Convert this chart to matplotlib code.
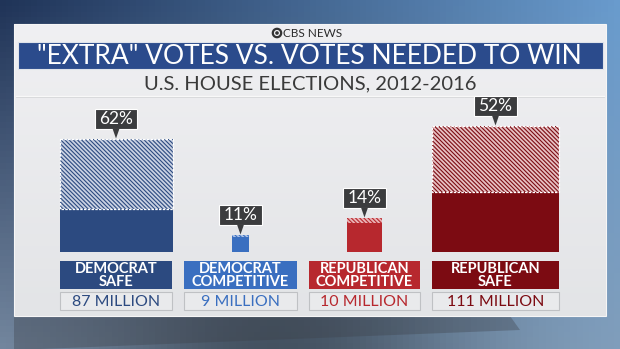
import numpy as np
import matplotlib.pyplot as plt
from matplotlib.patches import Rectangle, Polygon, Circle

# chart values
categories = ["DEMOCRAT\nSAFE", "DEMOCRAT\nCOMPETITIVE", "REPUBLICAN\nCOMPETITIVE", "REPUBLICAN\nSAFE"]
votes_million = [87, 9, 10, 111]
extra_pct = [62, 11, 14, 52]
# drawn box sides (width, height) as they appear in the graphic
box_w = [113, 17, 35, 127]
box_h = [113, 17, 34, 126]

colors = ["#2c4a80", "#3a6fc0", "#b7282e", "#7c0b12"]
hatch_bg = ["#c9d1e2", "#aec4e8", "#eab4b6", "#e6c0c2"]

plt.rcParams['font.family'] = ['Lato', 'DejaVu Sans']
plt.rcParams['hatch.linewidth'] = 0.8

W, H = 620, 349
fig = plt.figure(figsize=(6.2, 3.49), dpi=100)
ax = fig.add_axes([0, 0, 1, 1])
ax.set_xlim(0, W)
ax.set_ylim(H, 0)
ax.axis('off')

# outer background gradient
yy, xx = np.mgrid[0:1:60j, 0:1:100j]
tl = np.array([32, 52, 88]) / 255
tr = np.array([105, 155, 205]) / 255
bl = np.array([120, 140, 165]) / 255
br = np.array([130, 160, 190]) / 255
bg = ((1 - xx)[..., None] * (1 - yy)[..., None] * tl + xx[..., None] * (1 - yy)[..., None] * tr
      + (1 - xx)[..., None] * yy[..., None] * bl + xx[..., None] * yy[..., None] * br)
mid = np.exp(-((xx - 0.45) / 0.3) ** 2) * yy
bg = bg * (1 - 0.45 * mid[..., None])
ax.imshow(bg, extent=[0, W, H, 0], aspect='auto', zorder=0)

# shadow under panel
ax.add_patch(Polygon([[14, 316], [510, 316], [520, 330], [40, 349], [14, 349]],
                     closed=True, fc='#3c4048', ec='none', alpha=0.35, zorder=1))

# panel
pan = np.linspace(0, 1, 50)[:, None] * np.ones((1, 10))
pcol = (1 - pan)[..., None] * np.array([0.94, 0.94, 0.95]) + pan[..., None] * np.array([0.89, 0.895, 0.905])
ax.imshow(pcol, extent=[14, 606, 316, 24], aspect='auto', zorder=2)
ax.add_patch(Rectangle((14, 24), 592, 292, fill=False, ec='#f6f6f6', lw=0.8, zorder=3))

# header
ax.add_patch(Circle((277, 33), 4.2, fc='none', ec='#333333', lw=1.6, zorder=4))
ax.add_patch(Circle((277, 33), 1.8, fc='#333333', ec='none', zorder=4))
ax.text(283, 33.5, "CBS NEWS", ha='left', va='center', fontsize=8.5, color='#2a2a2a', zorder=4)
ax.add_patch(Rectangle((18, 42), 585, 27, fc='#2b4b8c', ec='#dfe3ea', lw=0.8, zorder=4))
ax.text(309, 56, '"EXTRA" VOTES VS. VOTES NEEDED TO WIN', ha='center', va='center',
        fontsize=19, color='white', zorder=5)
ax.text(310, 84, "U.S. HOUSE ELECTIONS, 2012-2016", ha='center', va='center',
        fontsize=14.5, color='#3a3a3a', zorder=5)
ax.plot([16, 604], [96, 96], color='#f8f8f8', lw=1, zorder=4)
ax.plot([16, 604], [97, 97], color='#d6d7d9', lw=0.6, zorder=4)

# columns
col_w = [112, 113, 111, 127]
gap = 12
base = 252
starts = np.cumsum([60] + [w + gap for w in col_w[:-1]])
centers = starts + np.array(col_w) / 2

fig.canvas.draw()
rend = fig.canvas.get_renderer()

for i in range(len(categories)):
    cx = centers[i]
    bw, bh = box_w[i], box_h[i]
    x0 = cx - bw / 2
    top = base - bh
    split = top + bh * extra_pct[i] / 100
    # solid part (votes needed)
    ax.add_patch(Rectangle((x0, split), bw, base - split, fc=colors[i], ec='none', zorder=5))
    # hatched part (extra votes)
    ax.add_patch(Rectangle((x0, top), bw, split - top, fc=hatch_bg[i], ec=colors[i],
                           lw=0, hatch='\\' * 8, zorder=5))
    if bw > 50:
        ax.add_patch(Rectangle((x0, top), bw, split - top, fill=False, ec='white',
                               lw=0.9, ls=(0, (2, 1)), zorder=6))

    # callout
    cb = top - 10
    t = ax.text(cx, cb - 10, f"{extra_pct[i]}%", ha='center', va='center',
                fontsize=12.5, color='white', zorder=9)
    ext = t.get_window_extent(rend)
    tw = ext.width + 9
    ax.add_patch(Rectangle((cx - tw / 2, cb - 20), tw, 20, fc='#3b3c3e', ec='white', lw=0.8, zorder=8))
    ax.add_patch(Polygon([[cx - 3.5, cb - 0.5], [cx + 3.5, cb - 0.5], [cx, top - 0.5]],
                         closed=True, fc='#3b3c3e', ec='none', zorder=8))

    # category label
    ax.add_patch(Rectangle((starts[i], 261), col_w[i], 28, fc=colors[i], ec='none', zorder=5))
    ax.text(cx, 275.5, categories[i], ha='center', va='center', fontsize=10.5,
            fontweight='bold', color='white', linespacing=0.95, zorder=6)

    # votes box
    ax.add_patch(Rectangle((starts[i], 292), col_w[i], 18, fc='#e9eaec', ec='#bfc1c4', lw=0.8, zorder=5))
    ax.text(cx, 301.5, f"{votes_million[i]} MILLION", ha='center', va='center', fontsize=11.5,
            color=colors[i], zorder=6)

fig.savefig('out.png', dpi=100)
